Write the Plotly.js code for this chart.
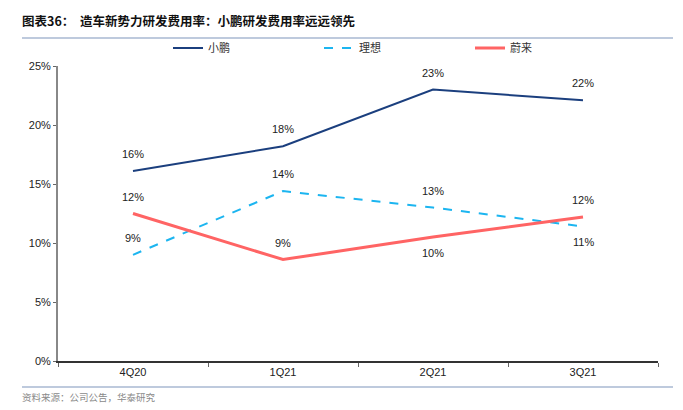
<!DOCTYPE html>
<html>
<head>
<meta charset="utf-8">
<script src="https://cdn.plot.ly/plotly-3.0.1.min.js"></script>
<style>
html,body{margin:0;padding:0;background:#fff;}
#chart{width:683px;height:410px;}
</style>
</head>
<body>
<div id="chart"></div>
<script>
const categories = ['4Q20', '1Q21', '2Q21', '3Q21'];
const seriesNames = ['小鹏', '理想', '蔚来'];
const xpeng = [16.1, 18.2, 23.0, 22.1];
const liAuto = [9.0, 14.4, 13.0, 11.4];
const nio = [12.5, 8.6, 10.5, 12.2];
const xpengLabels = ['16%', '18%', '23%', '22%'];
const liAutoLabels = ['9%', '14%', '13%', '11%'];
const nioLabels = ['12%', '9%', '10%', '12%'];
const yTickVals = [0, 5, 10, 15, 20, 25];
const yTickText = ['0%', '5%', '10%', '15%', '20%', '25%'];

const labelAbove = {
  xpeng: [true, true, true, true],
  li: [true, true, true, false],
  nio: [true, true, false, true]
};

const FONT = 'Liberation Sans, Arial, sans-serif';
const CJK = 'Noto Sans CJK SC, sans-serif';

const traces = [
  {x: categories, y: xpeng, name: seriesNames[0], type: 'scatter', mode: 'lines',
   line: {color: '#1B3F7E', width: 2}},
  {x: categories, y: liAuto, name: seriesNames[1], type: 'scatter', mode: 'lines',
   line: {color: '#1CB5F0', width: 2, dash: 'dash'}},
  {x: categories, y: nio, name: seriesNames[2], type: 'scatter', mode: 'lines',
   line: {color: '#FF6464', width: 3}}
];

const annotations = [];
function addLabels(vals, texts, above) {
  vals.forEach((v, i) => {
    annotations.push({
      x: categories[i], y: v, xref: 'x', yref: 'y', text: texts[i], showarrow: false,
      yshift: above[i] ? 17 : -16, font: {family: FONT, size: 11, color: '#222'}
    });
  });
}
addLabels(xpeng, xpengLabels, labelAbove.xpeng);
addLabels(liAuto, liAutoLabels, labelAbove.li);
addLabels(nio, nioLabels, labelAbove.nio);

const PT = 66, PB = 361, PL = 58, PW = 600;
const py = px => (PB - px) / (PB - PT);
const pxX = px => (px - PL) / PW;

annotations.push({
  xref: 'paper', yref: 'paper', x: pxX(20), y: py(20), xanchor: 'left', yanchor: 'middle',
  text: '<b>图表36：  造车新势力研发费用率：小鹏研发费用率远远领先</b>', showarrow: false,
  font: {family: CJK, size: 12.5, color: '#111'}
});
annotations.push({
  xref: 'paper', yref: 'paper', x: pxX(20), y: py(397), xanchor: 'left', yanchor: 'middle',
  text: '资料来源：公司公告，华泰研究', showarrow: false,
  font: {family: CJK, size: 9.5, color: '#8a8a8a'}
});

const layout = {
  width: 683, height: 410,
  margin: {l: 58, r: 25, t: 66, b: 49},
  paper_bgcolor: '#fff', plot_bgcolor: '#fff',
  showlegend: true,
  legend: {orientation: 'h', x: pxX(168), xanchor: 'left', y: py(48), yanchor: 'middle',
    font: {family: CJK, size: 11, color: '#333'}, entrywidth: 106, entrywidthmode: 'pixels',
    bgcolor: 'rgba(0,0,0,0)'},
  xaxis: {type: 'category', range: [-0.5, 3.5], showgrid: false, zeroline: false,
    showline: true, linecolor: '#333', linewidth: 1.5,
    ticks: 'outside', tickson: 'boundaries', ticklen: 4, tickcolor: '#666',
    tickfont: {family: FONT, size: 11, color: '#222'}, fixedrange: true},
  yaxis: {range: [0, 25], tickvals: yTickVals, ticktext: yTickText, showgrid: false,
    zeroline: false, showline: true, linecolor: '#888', linewidth: 2,
    ticks: 'outside', ticklen: 3, tickcolor: '#666',
    tickfont: {family: FONT, size: 11, color: '#222'}},
  shapes: [
    {type: 'line', xref: 'paper', yref: 'paper', x0: pxX(22), x1: pxX(673), y0: py(38), y1: py(38),
     line: {color: '#A9B8D2', width: 1.5}},
    {type: 'line', xref: 'paper', yref: 'paper', x0: pxX(22), x1: pxX(673), y0: py(387), y1: py(387),
     line: {color: '#A9B8D2', width: 1.5}}
  ],
  annotations: annotations
};

Plotly.newPlot('chart', traces, layout, {displayModeBar: false, staticPlot: true});
</script>
</body>
</html>
